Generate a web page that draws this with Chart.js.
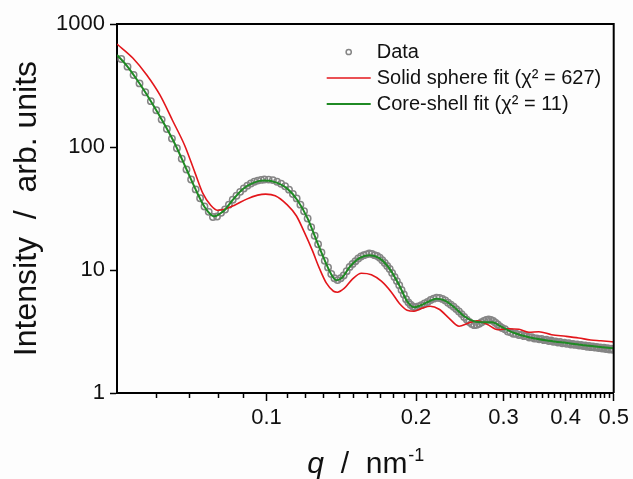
<!DOCTYPE html>
<html>
<head>
<meta charset="utf-8">
<script src="https://cdn.jsdelivr.net/npm/chart.js@4.4.1/dist/chart.umd.min.js"></script>
<style>
html,body{margin:0;padding:0;background:#fdfdfd;}
canvas{display:block;}
</style>
</head>
<body>
<canvas id="c" width="633" height="479"></canvas>
<script>
// ---------- data ----------
const seriesLabels = ['Data', 'Solid sphere fit (\u03C7\u00B2 = 627)', 'Core-shell fit (\u03C7\u00B2 = 11)'];

const qData = [
  0.0510,0.0525,0.0540,0.0555,0.0570,0.0585,0.0600,0.0615,0.0630,0.0645,0.0660,0.0675,0.0690,0.0705,0.0720,0.0735,0.0750,0.0765,0.0780,0.0795,0.0810,0.0825,0.0840,0.0855,0.0870,0.0885,0.0900,0.0915,0.0930,0.0945,0.0960,0.0975,0.0990,
  0.101,0.103,0.105,0.107,0.109,0.111,0.113,0.115,0.117,0.119,0.121,0.123,0.125,0.127,0.129,0.131,0.133,0.135,0.137,0.139,0.141,0.143,0.145,0.147,0.149,0.151,0.153,0.155,0.157,0.159,0.161,0.163,0.165,0.167,0.169,0.171,0.173,0.175,0.177,0.179,0.181,0.183,0.185,0.187,0.189,0.191,0.193,0.195,0.197,0.199,
  0.202,0.205,0.208,0.211,0.214,0.217,0.220,0.223,0.226,0.229,0.232,0.235,0.238,0.241,0.244,0.247,0.250,0.253,0.256,0.259,0.262,0.265,0.268,0.271,0.274,0.277,0.280,0.283,0.286,0.289,0.292,0.295,0.298,
  0.302,0.306,0.310,0.314,0.318,0.322,0.326,0.330,0.334,0.338,0.342,0.346,0.350,0.354,0.358,0.362,0.366,0.370,0.374,0.378,0.382,0.386,0.390,0.394,0.398,0.402,0.406,0.410,0.414,0.418,0.422,0.426,0.430,0.434,0.438,0.442,0.446,0.450,0.454,0.458,0.462,0.466,0.470,0.474,0.478,0.482,0.486,0.490,0.494,0.498
];
const iData = [
  520,450,385,329,279,236,199,167,140,117,97.7,80.2,65.7,54.4,45.2,38.3,32.8,29.7,27.0,27.2,29.2,31.0,34.0,37.2,40.1,43.2,46.0,48.5,50.5,52.2,53.3,54.0,54.4,
  54.3,53.8,52.2,50.2,48.0,45.0,41.5,38.2,34.0,30.0,26.2,22.3,19.0,16.2,13.9,11.9,10.5,9.28,8.57,8.28,8.58,9.02,9.79,10.6,11.2,11.8,12.4,12.9,13.2,13.4,13.6,13.5,13.2,13.0,12.6,12.0,11.4,10.8,10.2,9.47,8.77,8.12,7.52,6.89,6.32,5.79,5.46,5.22,5.05,4.98,
  5.05,5.18,5.34,5.50,5.70,5.85,5.95,5.92,5.82,5.66,5.42,5.22,5.02,4.81,4.60,4.38,4.15,3.95,3.78,3.64,3.56,3.58,3.66,3.76,3.86,3.93,3.96,3.93,3.85,3.72,3.60,3.48,3.38,
  3.30,3.16,3.12,3.03,3.03,2.96,2.97,2.90,2.90,2.83,2.84,2.77,2.78,2.73,2.75,2.69,2.71,2.65,2.67,2.61,2.63,2.57,2.60,2.54,2.57,2.51,2.54,2.48,2.51,2.46,2.48,2.43,2.46,2.41,2.43,2.38,2.41,2.36,2.39,2.34,2.37,2.32,2.35,2.30,2.33,2.28,2.31,2.26,2.29,2.25
];

const qSolid = [0.0500,0.0538,0.0574,0.0610,0.0648,0.0685,0.0717,0.0744,0.0772,0.0797,0.0823,0.0862,0.0912,0.0960,0.0996,0.1041,0.1098,0.1149,0.1192,0.1236,0.1278,0.1320,0.1364,0.1389,0.1435,0.1489,0.1552,0.1626,0.1703,0.1784,0.1850,0.1919,0.1982,0.2056,0.2136,0.2226,0.2332,0.2442,0.2545,0.2653,0.2779,0.2924,0.3077,0.3222,0.3375,0.3535,0.3749,0.4004,0.4252,0.4495,0.4710,0.5000];
const iSolid = [687,529,385,265,162,102,62.5,42.2,33.6,30.6,31.2,33.6,37.7,40.6,41.4,40.2,34.2,27.5,20.2,14.5,10.3,7.81,6.72,6.60,7.11,8.42,9.42,9.16,8.11,6.60,5.37,4.71,4.62,4.89,5.08,4.80,4.05,3.49,3.69,3.87,3.62,3.27,3.33,3.30,3.12,3.15,2.98,2.89,2.80,2.70,2.66,2.60];

const qCore = [0.0500,0.0524,0.0556,0.0590,0.0624,0.0657,0.0691,0.0724,0.0751,0.0775,0.0787,0.0797,0.0823,0.0854,0.0895,0.0938,0.0983,0.1031,0.1098,0.1154,0.1209,0.1265,0.1314,0.1357,0.1383,0.1422,0.1468,0.1538,0.1611,0.1687,0.1767,0.1850,0.1919,0.1982,0.2046,0.2126,0.2195,0.2279,0.2387,0.2499,0.2616,0.2740,0.2845,0.2980,0.3144,0.3375,0.3702,0.4060,0.4454,0.5000];
const iCore = [560,455,325,223,151,102,65,43,32.4,27.9,27.3,27.9,30.6,36.9,45.4,50.8,53.3,52.3,46.3,36.9,26.4,16.8,11.6,8.89,8.26,8.74,10.5,12.5,13.2,12.5,10.3,7.52,5.57,4.98,5.17,5.57,5.84,5.68,4.98,4.21,3.83,3.76,3.76,3.43,3.09,2.84,2.66,2.54,2.42,2.31];

const xMajorTicks = [0.1, 0.2, 0.3, 0.4, 0.5];
const xTickLabels = ['0.1', '0.2', '0.3', '0.4', '0.5'];
const xMinorTicks = [0.06,0.07,0.08,0.09,0.11,0.12,0.13,0.14,0.15,0.16,0.17,0.18,0.19,0.21,0.22,0.23,0.24,0.25,0.26,0.27,0.28,0.29,0.31,0.32,0.33,0.34,0.35,0.36,0.37,0.38,0.39,0.41,0.42,0.43,0.44,0.45,0.46,0.47,0.48,0.49];
const yTicks = [1, 10, 100, 1000];
const yTickLabels = ['1', '10', '100', '1000'];

const yTitle = 'Intensity  /  arb. units';
const xTitleParts = ['q', '  /  nm', '-1'];

// ---------- style ----------
const FONT = '"Liberation Sans", Arial, Helvetica, sans-serif';
const GRAY = '#858585', RED = '#e3161b', GREEN = '#1f8a24', INK = '#111111';

const xTickValues = xMajorTicks.concat(xMinorTicks).sort((a, b) => a - b);

const bgPlugin = {
  id: 'bg',
  beforeDraw(chart) {
    const c = chart.ctx;
    c.save(); c.fillStyle = '#fdfdfd'; c.fillRect(0, 0, chart.width, chart.height); c.restore();
  }
};

const framePlugin = {
  id: 'frame',
  afterDatasetsDraw(chart) {
    const { ctx, chartArea: a } = chart;
    ctx.save();
    ctx.strokeStyle = '#000'; ctx.lineWidth = 2;
    ctx.beginPath();
    ctx.moveTo(a.left, a.top); ctx.lineTo(a.right, a.top); ctx.lineTo(a.right, a.bottom);
    ctx.stroke();
    ctx.restore();
  }
};

const legendPlugin = {
  id: 'insetLegend',
  afterDraw(chart) {
    const { ctx, chartArea: a } = chart;
    const order = [0, 1, 2];
    ctx.save();
    ctx.font = '20px ' + FONT;
    ctx.textBaseline = 'middle';
    ctx.textAlign = 'left';
    order.forEach((idx, k) => {
      const ds = chart.data.datasets[idx];
      const y = a.top + 28 + k * 26;
      const x0 = a.right - 287, x1 = a.right - 243;
      if (ds.showLine) {
        ctx.strokeStyle = ds.borderColor; ctx.lineWidth = ds.borderWidth;
        ctx.beginPath(); ctx.moveTo(x0, y); ctx.lineTo(x1, y); ctx.stroke();
      } else {
        ctx.strokeStyle = ds.pointBorderColor; ctx.lineWidth = ds.pointBorderWidth;
        ctx.beginPath(); ctx.arc((x0 + x1) / 2, y, 2.6, 0, Math.PI * 2); ctx.stroke();
      }
      ctx.fillStyle = INK;
      ctx.fillText(ds.label, a.right - 237, y);
    });
    ctx.restore();
  }
};

const xTitlePlugin = {
  id: 'xTitle',
  afterDraw(chart) {
    const { ctx, chartArea: a } = chart;
    const f1 = 'italic 30px ' + FONT, f2 = '30px ' + FONT, f3 = '18px ' + FONT;
    ctx.save();
    ctx.fillStyle = INK; ctx.textBaseline = 'alphabetic'; ctx.textAlign = 'left';
    ctx.font = f1; const w1 = ctx.measureText(xTitleParts[0]).width;
    ctx.font = f2; const w2 = ctx.measureText(xTitleParts[1]).width;
    ctx.font = f3; const w3 = ctx.measureText(xTitleParts[2]).width;
    let x = (a.left + a.right) / 2 - (w1 + w2 + w3) / 2;
    const base = 473;
    ctx.font = f1; ctx.fillText(xTitleParts[0], x, base); x += w1;
    ctx.font = f2; ctx.fillText(xTitleParts[1], x, base); x += w2;
    ctx.font = f3; ctx.fillText(xTitleParts[2], x + 1, base - 12);
    ctx.restore();
  }
};

const toPts = (xs, ys) => xs.map((v, i) => ({ x: v, y: ys[i] }));

new Chart(document.getElementById('c'), {
  type: 'scatter',
  data: {
    datasets: [
      {
        label: seriesLabels[0], data: toPts(qData, iData), showLine: false, order: 2,
        pointRadius: 3.2, pointHoverRadius: 3.2, pointBorderWidth: 1.5,
        pointBorderColor: GRAY, pointBackgroundColor: 'rgba(0,0,0,0)', pointStyle: 'circle'
      },
      {
        label: seriesLabels[1], data: toPts(qSolid, iSolid), showLine: true, order: 1,
        borderColor: RED, borderWidth: 1.6, pointRadius: 0, cubicInterpolationMode: 'monotone', fill: false
      },
      {
        label: seriesLabels[2], data: toPts(qCore, iCore), showLine: true, order: 0,
        borderColor: GREEN, borderWidth: 2, pointRadius: 0, cubicInterpolationMode: 'monotone', fill: false
      }
    ]
  },
  options: {
    responsive: false, animation: false, devicePixelRatio: 1,
    layout: { padding: { top: 24, right: 18, left: 0, bottom: 0 } },
    plugins: { legend: { display: false }, tooltip: { enabled: false } },
    scales: {
      x: {
        type: 'logarithmic', min: 0.05, max: 0.5, position: 'bottom',
        afterBuildTicks(s) { s.ticks = xTickValues.map(v => ({ value: v })); },
        afterFit(s) { s.height = 86; },
        ticks: {
          autoSkip: false, maxRotation: 0, minRotation: 0, padding: 4, color: INK,
          font: { family: FONT, size: 22 },
          callback(v) { const k = xMajorTicks.indexOf(v); return k >= 0 ? xTickLabels[k] : ''; }
        },
        grid: {
          display: true, drawOnChartArea: false, drawTicks: true, tickLength: 8, tickWidth: 1.5, tickColor: '#000',
          tickBorderDash(ctx) { return (ctx.tick && xMajorTicks.includes(ctx.tick.value)) ? [] : [4, 40]; }
        },
        border: { display: true, color: '#000', width: 2 },
        title: { display: false }
      },
      y: {
        type: 'logarithmic', min: 1, max: 1000, position: 'left',
        afterBuildTicks(s) { s.ticks = yTicks.map(v => ({ value: v })); },
        afterFit(s) { s.width = 117; },
        ticks: {
          autoSkip: false, padding: 5, color: INK, font: { family: FONT, size: 22 },
          callback(v) { const k = yTicks.indexOf(v); return k >= 0 ? yTickLabels[k] : ''; }
        },
        grid: { display: true, drawOnChartArea: false, drawTicks: true, tickLength: 7, tickWidth: 1.5, tickColor: '#000' },
        border: { display: true, color: '#000', width: 2 },
        title: { display: true, text: yTitle, color: INK, font: { family: FONT, size: 32 }, padding: { top: 8, bottom: 0 } }
      }
    }
  },
  plugins: [bgPlugin, framePlugin, legendPlugin, xTitlePlugin]
});
</script>
</body>
</html>
